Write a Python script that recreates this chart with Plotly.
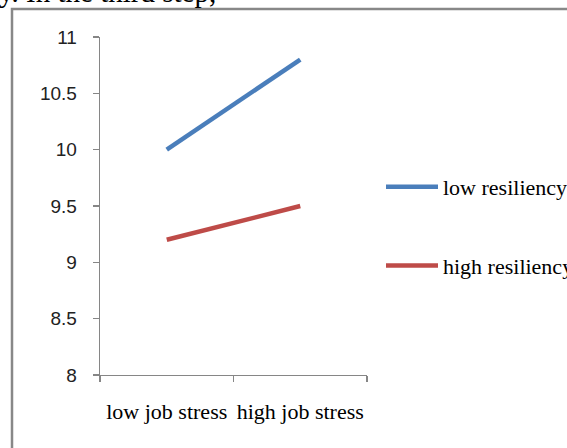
import plotly.graph_objects as go

categories = ["low job stress", "high job stress"]
series_names = ["low resiliency", "high resiliency"]
low_resiliency = [10.0, 10.8]
high_resiliency = [9.2, 9.5]
y_ticks = [8, 8.5, 9, 9.5, 10, 10.5, 11]
y_tick_labels = ["8", "8.5", "9", "9.5", "10", "10.5", "11"]
colors = ["#4a7ebb", "#be4b48"]

W, H = 567, 448

def px_x(p):
    return p / W

def px_y(p):
    return 1 - p / H

fig = go.Figure()
for i, (name, vals) in enumerate(zip(series_names, [low_resiliency, high_resiliency])):
    fig.add_trace(go.Scatter(
        x=categories, y=vals, mode="lines", name=name,
        line=dict(color=colors[i], width=4.5),
        legendgroup=str(i),
    ))

fig.update_layout(
    width=W, height=H,
    margin=dict(l=0, r=0, t=0, b=0, autoexpand=False),
    paper_bgcolor="white", plot_bgcolor="white",
    showlegend=True,
    legend=dict(
        x=px_x(381), y=px_y(166), xanchor="left", yanchor="top",
        font=dict(family="Liberation Serif", size=22, color="black"),
        tracegroupgap=47, bgcolor="rgba(0,0,0,0)",
        itemwidth=52,
    ),
    xaxis=dict(
        domain=[px_x(100), px_x(367)],
        type="category", tickson="boundaries",
        range=[-0.5, 1.5],
        automargin=False,
        tickangle=0,
        showline=True, linecolor="#868686", linewidth=1.3,
        ticks="outside", ticklen=6, tickcolor="#868686", tickwidth=1.3,
        ticklabelstandoff=16,
        showgrid=False, zeroline=False,
        tickfont=dict(family="Liberation Serif", size=22, color="black"),
        fixedrange=True,
    ),
    yaxis=dict(
        domain=[px_y(375), px_y(37)],
        range=[8, 11],
        automargin=False,
        tickvals=y_ticks, ticktext=y_tick_labels,
        showline=True, linecolor="#868686", linewidth=1.3,
        ticks="outside", ticklen=6, tickcolor="#868686", tickwidth=1.3,
        ticklabelstandoff=12,
        showgrid=False, zeroline=False,
        tickfont=dict(family="Liberation Sans", size=19, color="#222222"),
        fixedrange=True,
    ),
    shapes=[dict(
        type="rect", xref="paper", yref="paper",
        x0=px_x(12), x1=px_x(600), y0=px_y(480), y1=px_y(9),
        line=dict(color="#888888", width=2.5), fillcolor="rgba(0,0,0,0)",
    )],
    annotations=[dict(
        text="y. In the third step,", xref="paper", yref="paper",
        x=px_x(-3), y=px_y(10), xanchor="left", yanchor="bottom",
        showarrow=False,
        font=dict(family="Liberation Serif", size=29, color="black"),
    )],
)

fig.write_html(
    "out.html",
    config={"displayModeBar": False, "staticPlot": True},
    post_script="document.body.style.margin='0';document.body.style.overflow='hidden';",
)
